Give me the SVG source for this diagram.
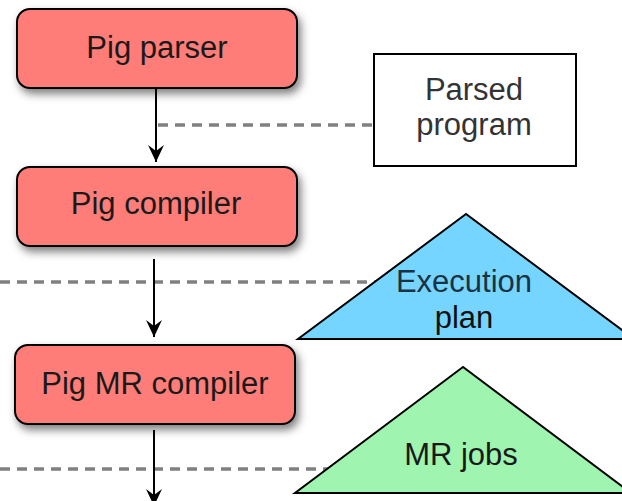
<svg xmlns="http://www.w3.org/2000/svg" width="622" height="501" viewBox="0 0 622 501">
<defs>
<style>
.box{fill:#ff7d78;stroke:#000;stroke-width:2}
.t{font-family:"Liberation Sans",Arial,sans-serif;font-size:31px;text-anchor:middle;fill:#1a1a1a}
.dash{stroke:#808080;stroke-width:3.5;stroke-dasharray:10 7;fill:none}
.arr{stroke:#000;stroke-width:2;fill:none;marker-end:url(#ah)}
</style>
<filter id="sh" x="-10%" y="-20%" width="130%" height="160%">
<feDropShadow dx="3" dy="5" stdDeviation="4" flood-color="#000" flood-opacity="0.5"/>
</filter>
<marker id="ah" viewBox="0 0 22 22" refX="20" refY="11" markerWidth="22" markerHeight="22" markerUnits="userSpaceOnUse" orient="auto">
<path d="M3,3 L20,11 L3,19 L9,11 Z" fill="#000"/>
</marker>
</defs>
<rect width="622" height="501" fill="#fff"/>
<g id="connectors">
<line class="dash" x1="158" y1="125" x2="374" y2="125"/>
<line class="dash" x1="0" y1="282" x2="380" y2="282"/>
<line class="dash" x1="0" y1="469" x2="330" y2="469"/>
<line class="arr" x1="156" y1="88" x2="156" y2="162"/>
<line class="arr" x1="154" y1="259" x2="154" y2="337"/>
<line class="arr" x1="154" y1="430" x2="154" y2="506"/>
</g>
<g id="pig-parser">
<rect class="box" x="17" y="9" width="280" height="79" rx="13" filter="url(#sh)"/>
<text class="t" x="157" y="58">Pig parser</text>
</g>
<g id="pig-compiler">
<rect class="box" x="17" y="167" width="280" height="79" rx="13" filter="url(#sh)"/>
<text class="t" x="156" y="214">Pig compiler</text>
</g>
<g id="pig-mr-compiler">
<rect class="box" x="15" y="345" width="280" height="79" rx="13" filter="url(#sh)"/>
<text class="t" x="155" y="394">Pig MR compiler</text>
</g>
<g id="parsed-program">
<rect x="374" y="54" width="202" height="112" fill="#fff" stroke="#000" stroke-width="2"/>
<text class="t" x="474" y="100" style="fill:#333">Parsed</text>
<text class="t" x="474" y="135" style="fill:#333">program</text>
</g>
<g id="execution-plan">
<polygon points="466,214 298,339 634,339" fill="#76d5ff" stroke="#000" stroke-width="2"/>
<text class="t" x="464" y="292" style="fill:#1a3344">Execution</text>
<text class="t" x="464" y="328" style="fill:#111">plan</text>
</g>
<g id="mr-jobs">
<polygon points="463,367 295,493 631,493" fill="#9ff5b0" stroke="#000" stroke-width="2"/>
<text class="t" x="461" y="465">MR jobs</text>
</g>
</svg>
